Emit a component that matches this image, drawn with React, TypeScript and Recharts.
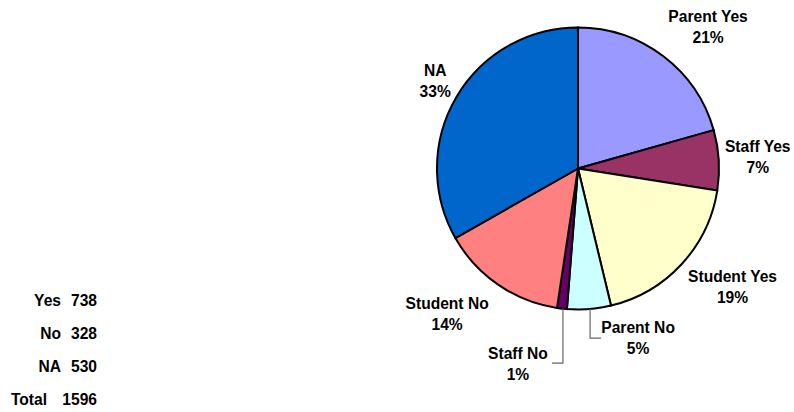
import React from "react";
import { PieChart, Pie, Cell } from "recharts";

const categories = ["Parent Yes", "Staff Yes", "Student Yes", "Parent No", "Staff No", "Student No", "NA"];
const counts = [329, 110, 299, 80, 18, 230, 530];
const sliceColors = ["#9999FF", "#993366", "#FFFFCC", "#CCFFFF", "#660066", "#FF8080", "#0066CC"];

const summaryLabels = ["Yes", "No", "NA", "Total"];
const summaryValues = [738, 328, 530, 1596];

const data = categories.map((name, i) => ({ name, value: counts[i] }));

// label layout: offset of the first-line baseline / centre from the slice's outer mid point
const labelOffsets = [
  { dx: 45, dy: -34 },
  { dx: 39, dy: -8 },
  { dx: 51, dy: 18 },
  { dx: 49, dy: 24 },
  { dx: -44, dy: 50.5 },
  { dx: -51, dy: 24 },
  { dx: -21, dy: -21.5 },
];
// leader lines: vertical drop then horizontal run
const leaders: Record<number, { down: number; side: number }> = {
  3: { down: 29, side: 11 },
  4: { down: 54.5, side: -11 },
};

const FONT = "'Liberation Sans', Arial, sans-serif";
const FS = 15.6;
const RAD = Math.PI / 180;

const renderLabel = (props: any) => {
  const { cx, cy, midAngle, outerRadius, index, percent, name } = props;
  const px = cx + outerRadius * Math.cos(-midAngle * RAD);
  const py = cy + outerRadius * Math.sin(-midAngle * RAD);
  const off = labelOffsets[index];
  const x = px + off.dx;
  const y = py + off.dy;
  const lead = leaders[index];
  return (
    <g key={`lbl-${index}`}>
      {lead && (
        <polyline
          points={`${px + 1},${py} ${px + 1},${py + lead.down} ${px + 1 + lead.side},${py + lead.down}`}
          fill="none"
          stroke="#666"
          strokeWidth={1.2}
        />
      )}
      <text x={x} y={y} textAnchor="middle" fontFamily={FONT} fontWeight="bold" fontSize={FS} fill="#000">
        {name}
      </text>
      <text x={x} y={y + 21} textAnchor="middle" fontFamily={FONT} fontWeight="bold" fontSize={FS} fill="#000">
        {`${Math.round(percent * 100)}%`}
      </text>
    </g>
  );
};

const summaryBaselines = [306, 339, 372, 405];
const summaryLabelRight = [61, 61, 61, 47];

export default function App() {
  return (
    <div style={{ position: "absolute", left: 0, top: 0, width: 794, height: 412, background: "#fff" }}>
      <PieChart width={794} height={412} margin={{ top: 0, right: 0, bottom: 0, left: 0 }}>
        <Pie
          data={data}
          dataKey="value"
          nameKey="name"
          cx={578}
          cy={168.5}
          outerRadius={141}
          startAngle={90}
          endAngle={-270}
          stroke="#000"
          strokeWidth={2}
          label={renderLabel}
          labelLine={false}
          isAnimationActive={false}
        >
          {data.map((d, i) => (
            <Cell key={d.name} fill={sliceColors[i]} />
          ))}
        </Pie>
      </PieChart>
      <svg width={794} height={412} style={{ position: "absolute", left: 0, top: 0, pointerEvents: "none" }}>
        {summaryLabels.map((lab, i) => (
          <g key={lab}>
            <text x={summaryLabelRight[i]} y={summaryBaselines[i]} textAnchor="end" fontFamily={FONT} fontWeight="bold" fontSize={FS} fill="#000">
              {lab}
            </text>
            <text x={97} y={summaryBaselines[i]} textAnchor="end" fontFamily={FONT} fontWeight="bold" fontSize={FS} fill="#000">
              {summaryValues[i]}
            </text>
          </g>
        ))}
      </svg>
    </div>
  );
}
